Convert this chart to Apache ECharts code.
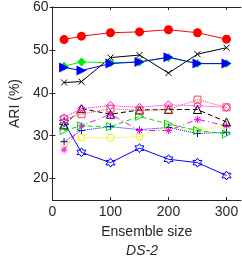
<!DOCTYPE html>
<html><head><meta charset="utf-8">
<script src="https://cdn.jsdelivr.net/npm/echarts@6/dist/echarts.min.js"></script>
<style>html,body{margin:0;padding:0;background:#fff}#c{width:242px;height:258px}</style>
</head><body><div id="c"></div>
<script>
var sizes = [20, 50, 100, 150, 200, 250, 300];
var xTicks = [0, 100, 200, 300];
var yTicks = [20, 30, 40, 50, 60];
var redCircle   = [52.4, 53.2, 54.0, 54.2, 54.7, 54.0, 52.5];
var greenDiam   = [46.2, 47.2, 47.0, 47.2, 48.2, 46.8, 46.8];
var blueTri     = [45.9, 45.2, 46.8, 47.2, 48.3, 46.8, 46.8];
var blackX      = [42.4, 42.6, 48.2, 48.8, 44.6, 49.0, 50.5];
var redSquare   = [33.8, 35.0, 36.3, 35.9, 36.1, 38.4, 36.6];
var magDiam     = [34.2, 36.3, 37.0, 36.6, 37.2, 37.0, 36.6];
var blackTriUp  = [32.5, 36.3, 35.0, 36.0, 36.1, 36.1, 33.2];
var greenTriR   = [31.2, 32.3, 32.1, 34.5, 32.7, 31.2, 30.4];
var magStar     = [26.7, 32.3, 35.0, 31.2, 31.2, 33.8, 32.3];
var bluePlus    = [28.6, 31.2, 32.1, 31.4, 31.9, 30.5, 30.8];
var yellowCirc  = [28.1, 29.6, 29.5, 29.8, 32.0, 31.3, 32.2];
var blueHex     = [33.1, 26.1, 23.7, 27.1, 24.5, 23.7, 20.7];

function pairs(v){ return sizes.map(function(x,i){ return [x, v[i]]; }); }
function hexPath(){
  var p = [];
  for (var k = 0; k < 12; k++) {
    var a = Math.PI/2 + k*Math.PI/6;
    var r = (k % 2 === 0) ? 5 : 2.9;
    p.push((5 + r*Math.cos(a)).toFixed(2) + ',' + (5 - r*Math.sin(a)).toFixed(2));
  }
  return 'path://M' + p.join('L') + 'Z';
}
var XP = 'path://M0,0L10,10M10,0L0,10';
var PLUS = 'path://M5,0L5,10M0,5L10,5';
var AST = 'path://M5,0L5,10M0,5L10,5M1.5,1.5L8.5,8.5M8.5,1.5L1.5,8.5';
var HEX = hexPath();

function ser(data, color, symbol, size, lineType, filled, rot, z){
  return {
    type: 'line', data: pairs(data), symbol: symbol, symbolSize: size,
    symbolRotate: rot || 0, z: z || 2,
    lineStyle: { color: color, width: 1, type: lineType },
    itemStyle: { color: filled ? color : 'rgba(0,0,0,0)', borderColor: color, borderWidth: filled ? 0 : 1 },
    emphasis: { disabled: true }, animation: false
  };
}
var txt = '#262626';
var chart = echarts.init(document.getElementById('c'), null, { renderer: 'canvas' });
chart.setOption({
  animation: false,
  title: { text: 'DS-2', left: 142, top: 244, padding: 0, textAlign: 'center',
    textStyle: { fontFamily: 'Liberation Sans', fontSize: 14, fontStyle: 'italic', fontWeight: 'normal', color: txt } },
  grid: { left: 44, right: 1, top: 4.5, bottom: 58 },
  xAxis: [{
    type: 'value', min: 0, max: 325,
    name: 'Ensemble size', nameLocation: 'middle', nameGap: 25,
    nameTextStyle: { fontFamily: 'Liberation Sans', fontSize: 14, color: txt },
    axisLine: { show: true, lineStyle: { color: txt, width: 1 } },
    axisTick: { show: true, inside: true, length: 3, customValues: xTicks, lineStyle: { color: txt } },
    axisLabel: { customValues: xTicks, fontFamily: 'Liberation Sans', fontSize: 14, color: txt, margin: 5 },
    splitLine: { show: false }
  }, {
    type: 'value', min: 0, max: 325, position: 'top',
    axisLine: { show: true, lineStyle: { color: txt, width: 1 } },
    axisTick: { show: true, inside: true, length: 3, customValues: xTicks, lineStyle: { color: txt } },
    axisLabel: { show: false }, splitLine: { show: false }
  }],
  yAxis: [{
    type: 'value', min: 15, max: 60,
    name: 'ARI (%)', nameLocation: 'middle', nameGap: 22,
    nameTextStyle: { fontFamily: 'Liberation Sans', fontSize: 14, color: txt },
    axisLine: { show: true, lineStyle: { color: txt, width: 1 } },
    axisTick: { show: true, inside: true, length: 3, customValues: yTicks, lineStyle: { color: txt } },
    axisLabel: { customValues: yTicks, fontFamily: 'Liberation Sans', fontSize: 14, color: txt, margin: 4 },
    splitLine: { show: false }
  }, {
    type: 'value', min: 15, max: 60, position: 'right',
    axisLine: { show: true, lineStyle: { color: txt, width: 1 } },
    axisTick: { show: true, inside: true, length: 3, customValues: yTicks, lineStyle: { color: txt } },
    axisLabel: { show: false }, splitLine: { show: false }
  }],
  series: [
    ser(blueHex, '#0000ff', HEX, 9, 'solid', false),
    ser(yellowCirc, '#f0f000', 'circle', 7, 'dotted', false),
    ser(bluePlus, '#0000ff', PLUS, 7, 'dotted', false),
    ser(magStar, '#ff00ff', AST, 7, [6, 3, 1, 3], false),
    ser(greenTriR, '#00dd00', 'triangle', 8, [5, 3], false, -90),
    ser(blackTriUp, '#000000', 'triangle', 8, [5, 3], false),
    ser(magDiam, '#ff00ff', 'diamond', 8, 'dotted', false),
    ser(redSquare, '#ff4040', 'rect', 7, 'dotted', false),
    ser(blackX, '#000000', XP, 6, 'solid', false),
    ser(greenDiam, '#00ee00', 'diamond', 9, 'solid', true),
    ser(blueTri, '#0000ff', 'triangle', 10, 'solid', true, -90),
    ser(redCircle, '#ff0000', 'circle', 9, 'solid', true, 0, 3)
  ]
});
</script></body></html>
